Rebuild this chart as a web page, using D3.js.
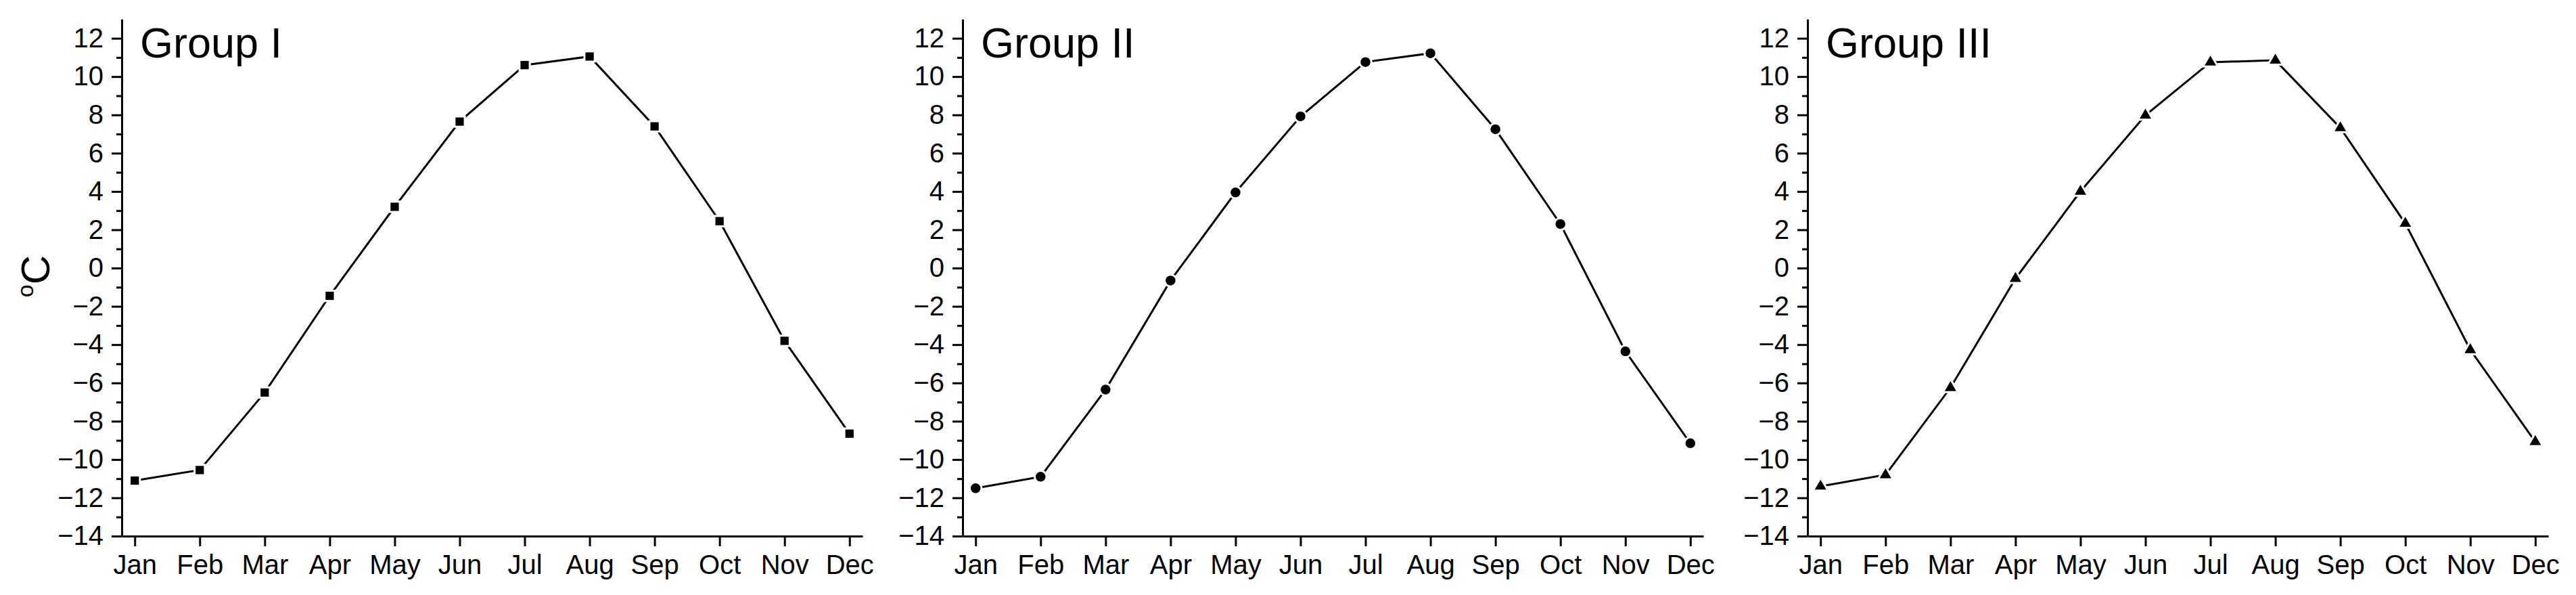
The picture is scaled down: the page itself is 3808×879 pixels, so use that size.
<!DOCTYPE html>
<html>
<head>
<meta charset="utf-8">
<script src="https://cdn.jsdelivr.net/npm/d3@7"></script>
<style>
  html, body { margin: 0; padding: 0; background: #fff; }
  svg { display: block; font-family: "Liberation Sans", Arial, sans-serif; }
</style>
</head>
<body>
<div id="chart"></div>
<script>
// data
const months = ["Jan", "Feb", "Mar", "Apr", "May", "Jun", "Jul", "Aug", "Sep", "Oct", "Nov", "Dec"];
const groupI = [-11.1, -10.55, -6.5, -1.45, 3.2, 7.65, 10.6, 11.05, 7.4, 2.45, -3.8, -8.65];
const groupII = [-11.5, -10.9, -6.35, -0.65, 3.95, 7.92, 10.76, 11.22, 7.25, 2.3, -4.35, -9.15];
const groupIII = [-11.4, -10.8, -6.25, -0.55, 4.0, 7.98, 10.75, 10.85, 7.32, 2.33, -4.27, -9.07];
const groupNames = ["Group I", "Group II", "Group III"];
const yMajor = [-14, -12, -10, -8, -6, -4, -2, 0, 2, 4, 6, 8, 10, 12];
const yMinor = [-13, -11, -9, -7, -5, -3, -1, 1, 3, 5, 7, 9, 11];

const width = 3808;
const height = 879;

const svg = d3
  .select("#chart")
  .append("svg")
  .attr("width", width)
  .attr("height", height);

// shared scales (each panel is translated)
const x = d3.scaleLinear().domain([0.8, 12.2]).range([0, 1095]);
const y = d3.scaleLinear().domain([-14, 13]).range([792, 28.3]);

const panels = [
  { name: groupNames[0], values: groupI, symbol: d3.symbolSquare, size: 150, left: 180 },
  { name: groupNames[1], values: groupII, symbol: d3.symbolCircle, size: 165, left: 1423 },
  { name: groupNames[2], values: groupIII, symbol: d3.symbolTriangle, size: 125, left: 2672 },
];

const line = d3
  .line()
  .x((d, i) => x(i + 1))
  .y((d) => y(d));

panels.forEach(function (p) {
  const g = svg.append("g").attr("transform", `translate(${p.left},0)`);

  // minor y ticks
  g.append("g")
    .call(d3.axisLeft(y).tickValues(yMinor).tickSize(8).tickFormat(""))
    .call((a) => a.select(".domain").remove())
    .selectAll("line")
    .attr("stroke", "#000")
    .attr("stroke-width", 3);

  // major y axis
  const ya = g
    .append("g")
    .call(d3.axisLeft(y).tickValues(yMajor).tickSize(15).tickSizeOuter(0).tickPadding(12));
  ya.select(".domain").attr("stroke", "#000").attr("stroke-width", 3);
  ya.selectAll("line").attr("stroke", "#000").attr("stroke-width", 3);
  ya.selectAll("text").attr("font-size", 40).attr("fill", "#000");

  // x axis
  const xa = g
    .append("g")
    .attr("transform", `translate(0,${y(-14)})`)
    .call(
      d3
        .axisBottom(x)
        .tickValues(d3.range(1, 13))
        .tickFormat((d) => months[d - 1])
        .tickSize(15)
        .tickSizeOuter(0)
        .tickPadding(13)
    );
  xa.select(".domain").attr("stroke", "#000").attr("stroke-width", 3);
  xa.selectAll("line").attr("stroke", "#000").attr("stroke-width", 3);
  xa.selectAll("text").attr("font-size", 40).attr("fill", "#000");

  // line
  g.append("path")
    .datum(p.values)
    .attr("fill", "none")
    .attr("stroke", "#000")
    .attr("stroke-width", 3)
    .attr("d", line);

  // markers, white halo gives the small gap around each point
  g.selectAll(".marker")
    .data(p.values)
    .join("path")
    .attr("class", "marker")
    .attr("transform", (d, i) => `translate(${x(i + 1)},${y(d)})`)
    .attr("d", d3.symbol().type(p.symbol).size(p.size))
    .attr("fill", "#000")
    .attr("stroke", "#fff")
    .attr("stroke-width", 6)
    .style("paint-order", "stroke");

  // panel title
  g.append("text")
    .attr("x", 27)
    .attr("y", 85)
    .attr("font-size", 63)
    .attr("fill", "#000")
    .text(p.name);
});

// y axis label
const yl = svg
  .append("text")
  .attr("transform", "translate(73,408) rotate(-90)")
  .attr("text-anchor", "middle")
  .attr("font-size", 60)
  .attr("fill", "#000");
yl.append("tspan").attr("font-size", 34).attr("dy", -24).text("o");
yl.append("tspan").attr("dy", 24).text("C");
</script>
</body>
</html>
